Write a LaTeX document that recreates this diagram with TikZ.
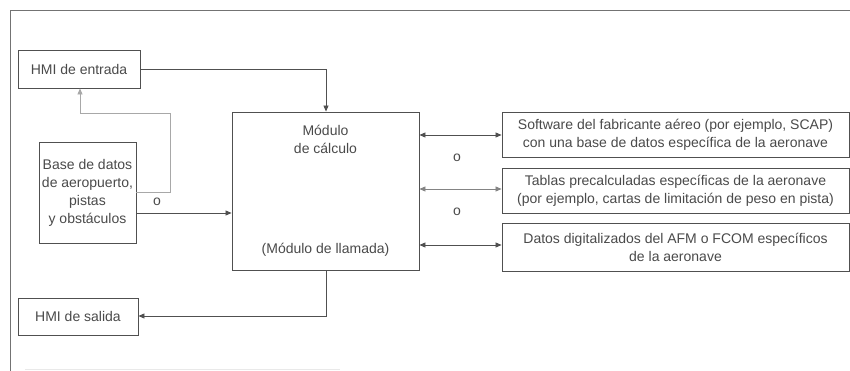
\documentclass[tikz,border=0pt]{standalone}
\usepackage{fontspec}
\setmainfont{Liberation Sans}
\usetikzlibrary{arrows.meta}
\definecolor{ln}{HTML}{505050}
\definecolor{tx}{HTML}{4A4A4A}
\definecolor{lt}{HTML}{A8A8A8}
\begin{document}
\begin{tikzpicture}[x=1pt,y=-1pt,
  box/.style={draw=ln,line width=0.9pt,inner sep=0pt,text=tx,align=center,
    font=\fontsize{14}{18}\selectfont},
  lbl/.style={text=tx,font=\fontsize{14}{18}\selectfont,inner sep=0pt},
  conn/.style={draw=ln,line width=0.8pt,-{Triangle[length=6pt,width=5pt]}},
  dconn/.style={draw=ln,line width=0.8pt,{Triangle[length=6pt,width=5pt]}-{Triangle[length=6pt,width=5pt]}},
  lconn/.style={draw=lt,line width=0.8pt,-{Triangle[length=6pt,width=5pt]}}]
\useasboundingbox (0,0) rectangle (850,371);
\fill[white] (0,0) rectangle (850,371);
% frame
\draw[draw=ln!80,line width=1pt] (850,11) -- (10,11) -- (10,371);
\draw[draw=lt!25,line width=0.6pt] (25,369) -- (340,369);
% nodes
\node[box,minimum width=122pt,minimum height=38pt] (hin) at (79,69) {HMI de entrada};
\node[box,minimum width=97pt,minimum height=101pt] (db) at (87.5,192.5)
  {Base de datos\\de aeropuerto,\\pistas\\y obstáculos};
\node[box,minimum width=187pt,minimum height=158pt] (mod) at (325.5,191) {};
\node[lbl,align=center] (modt) at (325.5,139) {Módulo\\de cálculo};
\node[lbl] (modb) at (325.5,250) {(Módulo de llamada)};
\node[box,minimum width=120pt,minimum height=37pt] (hout) at (78,316.5) {HMI de salida};
\node[box,minimum width=347pt,minimum height=45pt] (r1) at (675.5,134.5)
  {Software del fabricante aéreo (por ejemplo, SCAP)\\con una base de datos específica de la aeronave};
\node[box,minimum width=347pt,minimum height=45pt] (r2) at (675.5,190.5)
  {Tablas precalculadas específicas de la aeronave\\(por ejemplo, cartas de limitación de peso en pista)};
\node[box,minimum width=347pt,minimum height=48pt] (r3) at (675.5,247)
  {Datos digitalizados del AFM o FCOM específicos\\de la aeronave};
\node[lbl] (o1) at (157,202) {o};
\node[lbl] (o2) at (457,158) {o};
\node[lbl] (o3) at (457,212) {o};
% connectors
\coordinate (c1) at (326,69);
\draw[conn] (hin.east) -- (c1) -- (mod.north -| c1);
\draw[conn] (db.east |- 0,213) -- (mod.west |- 0,213);
\coordinate (d1) at (170,192);
\coordinate (d2) at (170,113);
\coordinate (d3) at (80,113);
\draw[lconn] (db.east |- d1) -- (d1) -- (d2) -- (d3) -- (hin.south -| d3);
\coordinate (e1) at (326,316);
\draw[conn] (mod.south -| e1) -- (e1) -- (hout.east |- e1);
\draw[dconn] (mod.east |- 0,135) -- (r1.west |- 0,135);
\draw[dconn,draw=ln!70] (mod.east |- 0,189) -- (r2.west |- 0,189);
\draw[dconn] (mod.east |- 0,245) -- (r3.west |- 0,245);
\end{tikzpicture}
\end{document}
